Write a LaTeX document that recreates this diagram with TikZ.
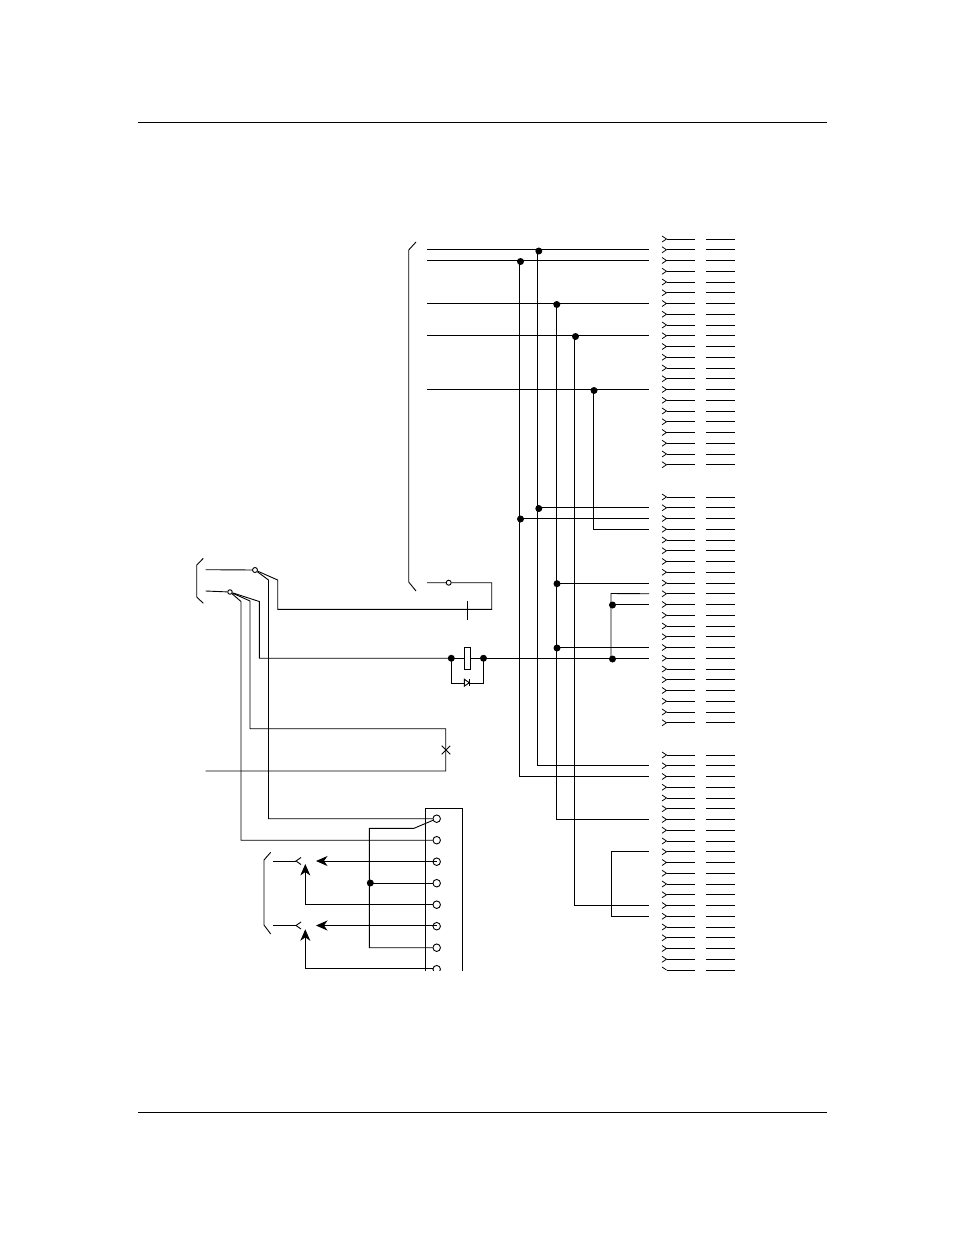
\documentclass[tikz,border=0pt]{standalone}
\usepackage{tikz}
\usetikzlibrary{arrows.meta}

\tikzset{
    wire/.style={line width=0.9pt,line join=miter},
    dot/.style={circle,fill,inner sep=0pt,minimum size=7pt},
    pin/.style={circle,draw,fill=white,line width=0.9pt,inner sep=0pt,minimum size=7.5pt},
    smallpin/.style={circle,draw,fill=white,line width=0.9pt,inner sep=0pt,minimum size=5pt},
    feed/.style={wire,-{Stealth[length=11.5pt,width=10pt,inset=3.5pt]}}
}

\begin{document}
\begin{tikzpicture}[x=1pt,y=-1pt,wire]
    \useasboundingbox (0,0) rectangle (954,1235);

    % page rules
    \coordinate (ruleTL) at (138,122);
    \coordinate (ruleTR) at (827,122);
    \coordinate (ruleBL) at (138,1112);
    \coordinate (ruleBR) at (827,1112);
    \draw (ruleTL) -- (ruleTR);
    \draw (ruleBL) -- (ruleBR);

    % connector rows, three groups
    \foreach \g/\y/\n in {a/239/21, b/497/21, c/755/19}{
        \foreach \i in {0,...,\n}{
            \coordinate (end\g\i) at (649,{\y+10.75*\i});
            \coordinate (tip\g\i) at (666.5,{\y+10.75*\i});
            \coordinate (mid\g\i) at (695,{\y+10.75*\i});
            \coordinate (far\g\i) at (706,{\y+10.75*\i});
            \coordinate (out\g\i) at (735,{\y+10.75*\i});
            \draw[line width=0.8pt] (662,{\y+10.75*\i-3}) -- (tip\g\i) -- (662,{\y+10.75*\i+3});
            \draw (tip\g\i) -- (mid\g\i);
            \draw (far\g\i) -- (out\g\i);
        }
    }
    % last row is cut off
    \coordinate (tipLast) at (666.5,970);
    \draw[line width=0.8pt] (662,967) -- (tipLast);
    \draw (tipLast) -- (695,970);
    \draw (706,970) -- (735,970);

    % upper brace
    \draw (416,242) -- (408.7,250) -- (408.7,582) -- (416,591);

    % top bus lines
    \coordinate (inA) at (427,249.75);
    \coordinate (inB) at (427,260.5);
    \coordinate (inC) at (427,303.5);
    \coordinate (inD) at (427,335.75);
    \coordinate (inE) at (427,389.5);
    \draw (inA) -- (enda1);
    \draw (inB) -- (enda2);
    \draw (inC) -- (enda6);
    \draw (inD) -- (enda9);
    \draw (inE) -- (enda14);

    % junctions on the bus
    \node[dot] (jA) at (538.8,251) {};
    \node[dot] (jB) at (520.5,261.5) {};
    \node[dot] (jC) at (556.8,304.5) {};
    \node[dot] (jD) at (575.5,336.5) {};
    \node[dot] (jE) at (594,390.5) {};

    % long verticals
    \coordinate (vertA) at (537.5,251);
    \coordinate (vertB) at (519.5,261.5);
    \coordinate (vertC) at (556,304.5);
    \coordinate (vertD) at (574.5,336.5);
    \coordinate (vertE) at (593,390.5);
    \draw (vertA) |- (endc1);
    \draw (vertB) |- (endc2);
    \draw (vertC) |- (endc6);
    \draw (vertD) |- (endc14);
    \draw (vertE) |- (endb3);

    % branches of the long verticals
    \node[dot] (jF) at (538.8,508.5) {};
    \node[dot] (jG) at (520.5,519) {};
    \draw (vertA |- endb1) -- (endb1);
    \draw (vertB |- endb2) -- (endb2);

    % middle group
    \node[dot] (jH) at (557,583.7) {};
    \node[dot] (jI) at (557,648) {};
    \draw (jH |- endb8) -- (endb8);
    \draw (jI |- endb14) -- (endb14);
    \coordinate (bendF) at (611,593.5);
    \draw (endb9) -- (bendF) -- (bendF |- endb15);
    \node[dot] (jJ) at (612.5,605) {};
    \node[dot] (jK) at (612.5,659) {};
    \draw (jJ |- endb10) -- (endb10);

    % lower loop
    \coordinate (bendG) at (611,851.75);
    \draw (endc9) -- (bendG) -- (bendG |- endc15) -- (endc15);

    % left brace, two feeds
    \draw (203.3,558.3) -- (196.7,565) -- (196.7,597) -- (203.3,603.3);
    \coordinate (feedA) at (205.7,569.7);
    \coordinate (feedB) at (205.7,591);
    \node[smallpin] (termA) at (255,570) {};
    \node[smallpin,minimum size=4.5pt] (termB) at (230,592) {};
    \draw (feedA) -- (termA);
    \draw (feedB) -- (termB);

    % block at the bottom
    \begin{scope}
        \clip (400,800) rectangle (480,970);
        \draw (425.3,975) -- (425.3,808.3) -- (462.3,808.3) -- (462.3,975);
        \foreach \i in {1,...,8}{
            \node[pin] (conn\i) at (436.7,{797.2+21.5*\i}) {};
        }
    \end{scope}

    % relay with diode
    \node[dot] (relL) at (451.3,658.25) {};
    \node[dot] (relR) at (483.5,658.25) {};
    \node[draw,fill=white,inner sep=0pt,minimum width=5.7pt,minimum height=22.4pt] (coil) at (467.2,658.25) {};
    \coordinate (diodeL) at (451.3,683);
    \coordinate (diodeR) at (482.7,683);
    \draw (relL.center) -- (diodeL) -- (diodeR) -- (relR.center |- diodeR) -- (relR.center);
    \draw[fill=white] (464.3,679.2) -- (469.3,682.7) -- (464.3,686.2) -- cycle;
    \draw (469.3,679.2) -- (469.3,686.2);

    % wires from terminal A
    \coordinate (bendA) at (268.5,580);
    \coordinate (bendB) at (277.7,580);
    \draw (termA) -- (bendA) |- (conn1);
    \coordinate (upR) at (491.7,582.7);
    \coordinate (cornR) at (491.7,609.3);
    \node[smallpin] (lamp) at (448.7,582.7) {};
    \coordinate (inF) at (427,582.7);
    \draw (inF) -- (lamp) -- (upR) -- (cornR) -| (bendB) -- (termA);
    \coordinate (tickT) at (467.3,601);
    \coordinate (tickB) at (467.3,620);
    \draw (tickT) -- (tickB);

    % wires from terminal B
    \coordinate (bendC) at (241,601.5);
    \coordinate (bendD) at (250,601);
    \coordinate (bendE) at (259.3,601.5);
    \draw (termB) -- (bendC) |- (conn2);
    \draw (termB) -- (bendE) |- (relL.center);
    \draw (relL.center) -- (coil);
    \draw (coil) -- (relR.center) -- (endb15);
    \coordinate (cornX) at (445.7,728.7);
    \coordinate (endX) at (205.7,771);
    \draw (termB) -- (bendD) |- (cornX) -- (cornX |- endX) -- (endX);
    \node[inner sep=0pt] (cross) at (445.9,750) {};
    \draw (cross) ++(-4.3,-4.3) -- ++(8.6,8.6);
    \draw (cross) ++(-4.3,4.3) -- ++(8.6,-8.6);

    % common return in the block
    \coordinate (retA) at (414,828.3);
    \coordinate (retB) at (369.3,828.3);
    \draw (conn1) -- (retA) -- (retB) |- (conn7);
    \node[dot] (jL) at (370.3,883) {};
    \draw (jL |- conn4) -- (conn4);

    % lower brace and plugs
    \draw (270.7,852.3) -- (264,860) -- (264,925) -- (270.7,934);
    \foreach \n/\y in {A/861, B/925.5}{
        \coordinate (plugIn\n) at (273.3,\y);
        \coordinate (plug\n) at (296,\y);
        \draw (plugIn\n) -- (plug\n);
        \draw (301,\y-3.5) -- (plug\n) -- (301,\y+3.5);
    }

    % arrows
    \coordinate (arrowA) at (316,861);
    \coordinate (arrowB) at (305.3,864);
    \coordinate (arrowC) at (316,925.5);
    \coordinate (arrowD) at (305.3,929.3);
    \coordinate (pinLast) at (433,968.3);
    \draw[feed] (conn3 |- arrowA) -- (arrowA);
    \draw[feed] (conn5) -| (arrowB);
    \draw[feed] (conn6 |- arrowC) -- (arrowC);
    \draw[feed] (pinLast) -| (arrowD);
\end{tikzpicture}
\end{document}
